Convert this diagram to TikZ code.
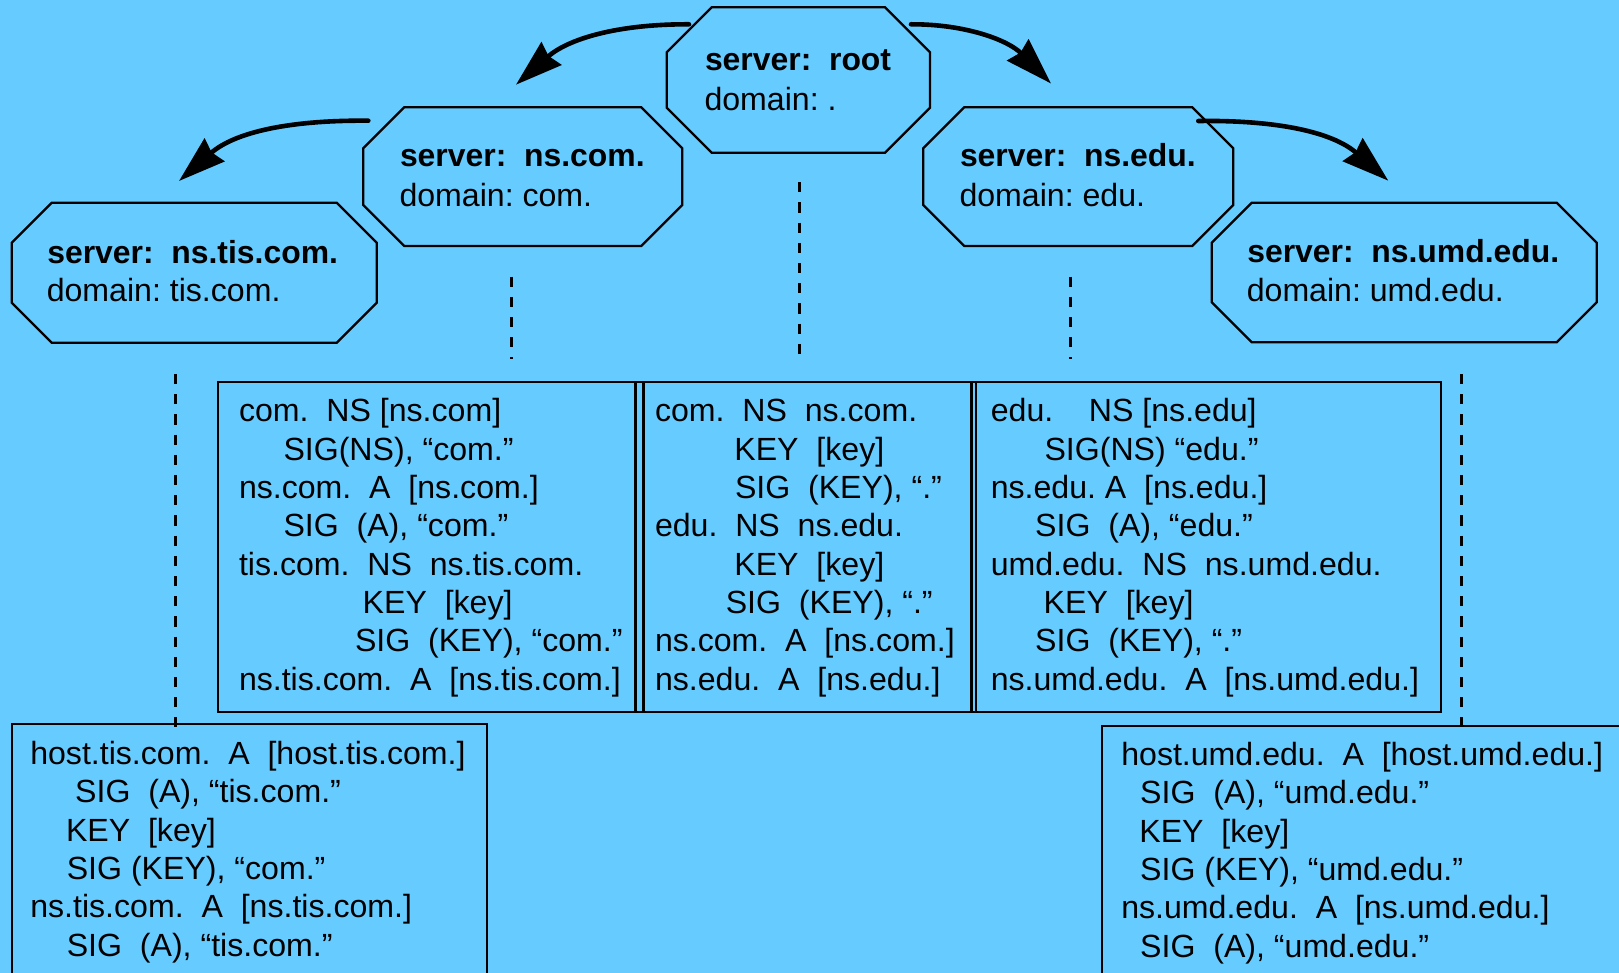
\documentclass[tikz,border=0pt]{standalone}
\usepackage{fontspec}
\setmainfont{Liberation Sans}
\usetikzlibrary{arrows.meta}
\definecolor{sky}{HTML}{66CCFF}
\tikzset{
  txt/.style={anchor=base west, inner sep=0pt, outer sep=0pt,
    font=\fontsize{16.05}{18}\selectfont},
  hd/.style={txt, font=\fontsize{15.95}{18}\selectfont\bfseries},
  srvbox/.style={rectangle, inner sep=0pt, outer sep=0pt, draw=none},
  octline/.style={draw=black, fill=sky, line width=1.15pt, line join=miter},
  panel/.style={rectangle, draw=black, line width=1.15pt, inner sep=0pt, outer sep=0pt},
  dashline/.style={line width=1.5pt, dash pattern=on 5.1pt off 5pt},
  bigarrow/.style={line width=2.3pt, line cap=round,
    -{Stealth[length=23.5pt, width=15pt, inset=1.8pt]}},
}
% chamfered outline around a named server box
\newcommand\octo[2]{%
  \draw[octline] ([xshift=#2]#1.north west) -- ([xshift=-#2]#1.north east)
    -- ([yshift=-#2]#1.north east) -- ([yshift=#2]#1.south east)
    -- ([xshift=-#2]#1.south east) -- ([xshift=#2]#1.south west)
    -- ([yshift=#2]#1.south west) -- ([yshift=-#2]#1.north west) -- cycle;}
\frenchspacing
\begin{document}
\begin{tikzpicture}[x=0.5pt, y=-0.5pt]
\fill[sky] (0,0) rectangle (1619,973);
\useasboundingbox (0,0) rectangle (1619,973);

% server boxes
\node[srvbox, minimum width=131.65pt, minimum height=72.7pt] (root) at (798.35,80) {};
\node[srvbox, minimum width=159.5pt, minimum height=69.35pt] (nscom) at (522.8,176.65) {};
\node[srvbox, minimum width=155pt, minimum height=69.35pt] (nsedu) at (1078.3,176.65) {};
\node[srvbox, minimum width=182.5pt, minimum height=70pt] (nstis) at (194.2,272.7) {};
\node[srvbox, minimum width=192.5pt, minimum height=69.8pt] (nsumd) at (1404.2,272.5) {};
\octo{root}{22.5pt}
\octo{nscom}{20.5pt}
\octo{nsedu}{20.5pt}
\octo{nstis}{20pt}
\octo{nsumd}{20pt}

\node[hd]  (rt1) at (705,70.3)  {server:~~root};
\node[txt] (rt2) at (704.5,110.3) {domain: .};
\node[hd]  (cm1) at (400,167)   {server:~~ns.com.};
\node[txt] (cm2) at (399.5,206.3) {domain: com.};
\node[hd]  (ed1) at (960,167)   {server:~~ns.edu.};
\node[txt] (ed2) at (959.5,206.3) {domain: edu.};
\node[hd]  (ts1) at (47.3,263.2) {server:~~ns.tis.com.};
\node[txt] (ts2) at (46.8,301.5)   {domain: tis.com.};
\node[hd]  (um1) at (1247.3,262.7) {server:~~ns.umd.edu.};
\node[txt] (um2) at (1246.8,301.5)   {domain: umd.edu.};

% delegation arrows
\coordinate (a1s) at (689,24.3);   \coordinate (a1e) at (516,84.7);
\coordinate (a2s) at (911,24.3);   \coordinate (a2e) at (1051,83.5);
\coordinate (a3s) at (368.3,120.7); \coordinate (a3e) at (179,181);
\coordinate (a4s) at (1198.3,121);  \coordinate (a4e) at (1388.3,180.7);
\draw[bigarrow] (a1s) .. controls (617,24) and (568,39) .. (a1e);
\draw[bigarrow] (a2s) .. controls (965,24) and (1008,40) .. (a2e);
\draw[bigarrow] (a3s) .. controls (290,120) and (235,132) .. (a3e);
\draw[bigarrow] (a4s) .. controls (1276,120) and (1332,131.7) .. (a4e);

% zone data panels
\node[panel, minimum width=208.6pt, minimum height=165pt] (boxA) at (426.9,547.3) {};
\node[panel, minimum width=164pt, minimum height=165pt] (boxB) at (807.5,547.3) {};
\node[panel, minimum width=232.45pt, minimum height=165pt] (boxC) at (1208.25,547.3) {};
\draw[line width=1.15pt] (boxA.north east) -- (boxB.north west)
  (boxA.south east) -- (boxB.south west)
  (boxB.north east) -- (boxC.north west)
  (boxB.south east) -- (boxC.south west);
\node[panel, minimum width=237.5pt, minimum height=138pt] (boxL) at (249.2,862) {};
\node[panel, minimum width=273.85pt, minimum height=137.15pt] (boxR) at (1376.15,862.85) {};

% dashed drop lines
\coordinate (d1a) at (511,276.7);  \coordinate (d1b) at (511,359.3);
\coordinate (d2a) at (799.5,182.3); \coordinate (d2b) at (799.5,355.3);
\coordinate (d3a) at (1070.7,276.7); \coordinate (d3b) at (1070.7,359.3);
\coordinate (d4a) at (175.7,374); \coordinate (d4b) at (175.7,726.7);
\coordinate (d5a) at (1461,374); \coordinate (d5b) at (1461,726.7);
\foreach \p in {1,...,5} \draw[dashline] (d\p a) -- (d\p b);

% panel A
\node[txt] (a1) at (239,421.7) {com.~~NS [ns.com]};
\node[txt] (a2) at (283.5,460.0) {SIG(NS), “com.”};
\node[txt] (a3) at (239,498.4) {ns.com.~~A~~[ns.com.]};
\node[txt] (a4) at (283.5,536.7) {SIG~~(A), “com.”};
\node[txt] (a5) at (239,575.0) {tis.com.~~NS~~ns.tis.com.};
\node[txt] (a6) at (362.7,613.4) {KEY~~[key]};
\node[txt] (a7) at (355,651.7) {SIG~~(KEY), “com.”};
\node[txt] (a8) at (239,690.0) {ns.tis.com.~~A~~[ns.tis.com.]};

% panel B
\node[txt] (b1) at (655,421.7) {com.~~NS~~ns.com.};
\node[txt] (b2) at (734.4,460.0) {KEY~~[key]};
\node[txt] (b3) at (735,498.4) {SIG~~(KEY), “.”};
\node[txt] (b4) at (655,536.7) {edu.~~NS~~ns.edu.};
\node[txt] (b5) at (734.4,575.0) {KEY~~[key]};
\node[txt] (b6) at (725.8,613.4) {SIG~~(KEY), “.”};
\node[txt] (b7) at (655,651.7) {ns.com.~~A~~[ns.com.]};
\node[txt] (b8) at (655,690.0) {ns.edu.~~A~~[ns.edu.]};

% panel C
\node[txt] (c1) at (990.8,421.7) {edu.~~~~NS [ns.edu]};
\node[txt] (c2) at (1044.5,460.0) {SIG(NS) “edu.”};
\node[txt] (c3) at (990.8,498.4) {ns.edu. A~~[ns.edu.]};
\node[txt] (c4) at (1035.2,536.7) {SIG~~(A), “edu.”};
\node[txt] (c5) at (990.8,575.0) {umd.edu.~~NS~~ns.umd.edu.};
\node[txt] (c6) at (1043.7,613.4) {KEY~~[key]};
\node[txt] (c7) at (1035.2,651.7) {SIG~~(KEY), “.”};
\node[txt] (c8) at (990.8,690.0) {ns.umd.edu.~~A~~[ns.umd.edu.]};

% host records, tis.com.
\node[txt] (l1) at (30.3,764.3) {host.tis.com.~~A~~[host.tis.com.]};
\node[txt] (l2) at (75.2,802.6) {SIG~~(A), “tis.com.”};
\node[txt] (l3) at (66,841.0) {KEY~~[key]};
\node[txt] (l4) at (66.8,879.3) {SIG (KEY), “com.”};
\node[txt] (l5) at (30.3,917.6) {ns.tis.com.~~A~~[ns.tis.com.]};
\node[txt] (l6) at (66.8,956.0) {SIG~~(A), “tis.com.”};

% host records, umd.edu.
\node[txt] (r1) at (1121.3,765.5) {host.umd.edu.~~A~~[host.umd.edu.]};
\node[txt] (r2) at (1140.2,803.8) {SIG~~(A), “umd.edu.”};
\node[txt] (r3) at (1139.4,842.2) {KEY~~[key]};
\node[txt] (r4) at (1140.2,880.5) {SIG (KEY), “umd.edu.”};
\node[txt] (r5) at (1121.3,918.8) {ns.umd.edu.~~A~~[ns.umd.edu.]};
\node[txt] (r6) at (1140.2,957.2) {SIG~~(A), “umd.edu.”};
\end{tikzpicture}
\end{document}
